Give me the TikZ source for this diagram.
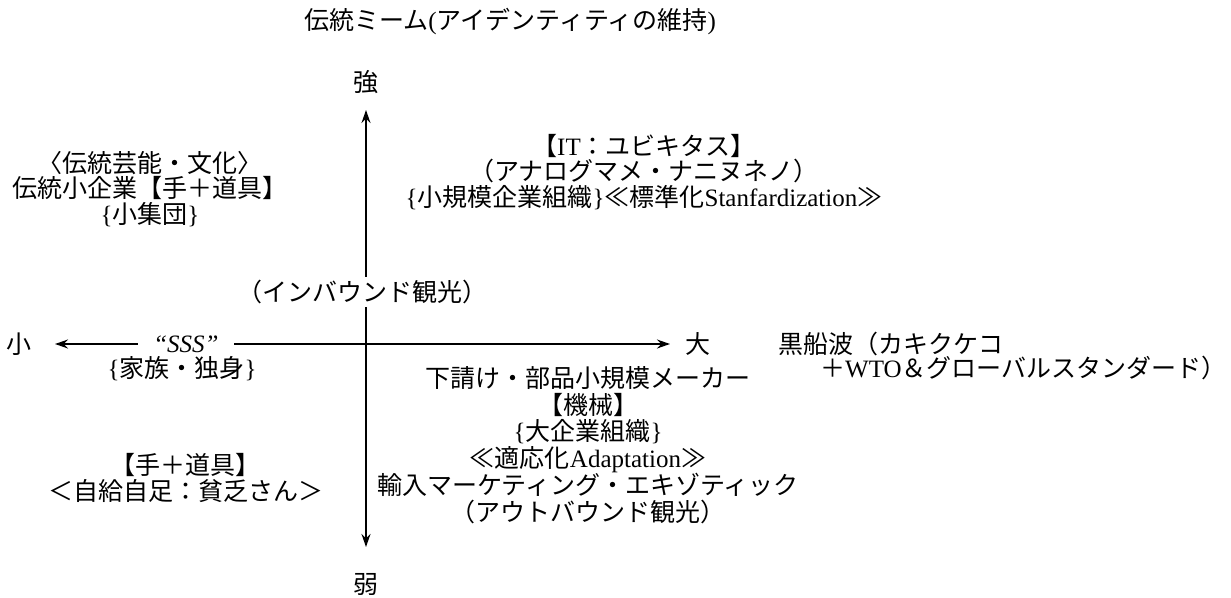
\documentclass[tikz,border=0pt]{standalone}
\usepackage{fontspec}
\setmainfont{Noto Sans CJK JP}
\newfontfamily\lat{Liberation Serif}
\usetikzlibrary{arrows.meta}
\begin{document}
\begin{tikzpicture}[x=1pt,y=-1pt,
  lbl/.style={inner sep=0pt,font=\fontsize{25}{25.5}\selectfont},
  blk/.style={lbl,align=center},
  axis/.style={line width=1.4pt,-{Stealth[length=13pt,width=9pt]}}]
\useasboundingbox (0,0) rectangle (1231,597);
% labels
\node[lbl] (title) at (510,22) {伝統ミーム{\lat (}アイデンティティの維持{\lat )}};
\node[lbl] (strong) at (366,82) {強};
\node[lbl] (weak) at (366,584) {弱};
\node[lbl] (small) at (19,344) {小};
\node[lbl] (large) at (698,344) {大};
% axis ends
\coordinate (top) at (366,110);
\coordinate (bot) at (366,547);
\coordinate (lft) at (55,344);
\coordinate (rgt) at (670,344);
\coordinate (ctr) at (366,344);
\draw[axis] (ctr) -- (top);
\draw[axis] (ctr) -- (bot);
\draw[axis] (ctr) -- (lft);
\draw[axis] (ctr) -- (rgt);
% texts on axes
\node[lbl,fill=white,inner xsep=6pt,inner ysep=3pt] (inbound) at (362,292) {（インバウンド観光）};
\node[lbl,fill=white,inner xsep=15pt,inner ysep=0pt] (sss) at (186,344) {\lat\itshape “SSS”};
\node[lbl] (family) at (182,369) {{\lat\{}家族・独身{\lat\}}};
% blocks
\node[blk] (ltop) at (150,189) {〈伝統芸能・文化〉\\伝統小企業【手＋道具】\\{\lat\{}小集団{\lat\}}};
\node[blk] (rtop) at (644,172) {【{\lat IT}：ユビキタス】\\（アナログマメ・ナニヌネノ）\\{\lat\{}小規模企業組織{\lat\}}≪標準化{\lat Stanfardization}≫};
\node[blk,font=\fontsize{25}{26.8}\selectfont] (rbot) at (588,445) {下請け・部品小規模メーカー\\【機械】\\{\lat\{}大企業組織{\lat\}}\\≪適応化{\lat Adaptation}≫\\輸入マーケティング・エキゾティック\\（アウトバウンド観光）};
\node[blk,font=\fontsize{25}{26}\selectfont] (lbot) at (186,478) {【手＋道具】\\＜自給自足：貧乏さん＞};
\node[lbl,align=left,anchor=west,font=\fontsize{25}{23.5}\selectfont] (kuro) at (778,356) {黒船波（カキクケコ\\\hspace{42pt}＋{\lat WTO}＆グローバルスタンダード）};
\end{tikzpicture}
\end{document}
